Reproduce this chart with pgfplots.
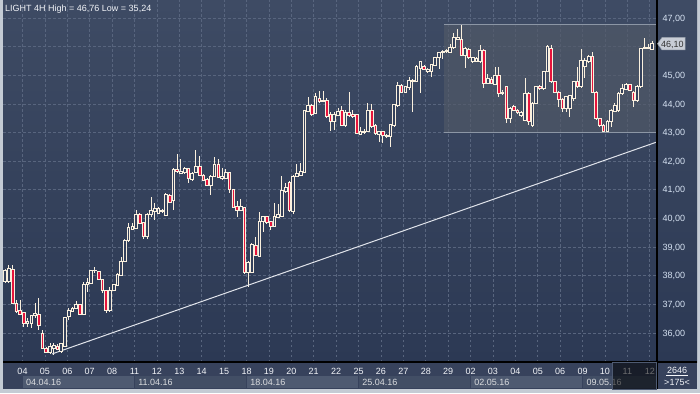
\documentclass[border=0pt]{standalone}
\usepackage{pgfplots}
\pgfplotsset{compat=1.18}
\usepackage{pgfplotstable}
\usepackage{fontspec}
\setmainfont{Liberation Sans}
\definecolor{framegray}{RGB}{196,203,212}
\definecolor{bgtop}{RGB}{62,75,100}
\definecolor{bgbot}{RGB}{44,57,84}
\definecolor{gridc}{RGB}{88,101,126}
\definecolor{cream}{RGB}{250,240,222}
\definecolor{bearred}{RGB}{230,20,60}
\definecolor{bullfill}{RGB}{52,65,92}
\definecolor{rectfill}{RGB}{82,90,104}
\definecolor{rectline}{RGB}{140,150,165}
\definecolor{panelbg}{RGB}{55,66,92}
\definecolor{weeklight}{RGB}{78,90,113}
\definecolor{weekdark}{RGB}{66,78,101}
\definecolor{txt}{RGB}{242,244,248}
\definecolor{pricelab}{RGB}{214,226,242}
\definecolor{trendc}{RGB}{225,228,235}
\definecolor{markfill}{RGB}{200,205,214}
\definecolor{markdraw}{RGB}{150,158,170}
\definecolor{overlay}{RGB}{28,36,54}

\pgfplotstableread{
n o h l c
0 37.79 38.25 37.76 38.20
1 37.79 38.36 37.76 38.26
2 38.22 38.36 37.00 37.04
3 37.04 37.15 36.72 36.75
4 36.80 37.15 36.62 36.65
5 36.72 36.74 36.22 36.34
6 36.34 36.51 36.22 36.42
7 36.34 36.64 36.16 36.61
8 36.61 37.06 36.51 36.69
9 36.65 37.21 36.11 36.26
10 35.99 36.10 35.44 35.47
11 35.47 35.50 35.30 35.33
12 35.33 35.64 35.28 35.55
13 35.47 35.66 35.24 35.58
14 35.55 35.60 35.40 35.43
15 35.35 35.66 35.30 35.64
16 35.52 36.57 35.50 36.55
17 36.57 36.86 36.46 36.80
18 36.75 36.90 36.72 36.86
19 36.86 37.10 36.84 37.00
20 37.00 37.03 36.62 36.65
21 36.65 37.79 36.62 37.71
22 37.70 37.91 37.44 37.76
23 37.73 38.20 37.70 38.18
24 38.18 38.29 38.10 38.20
25 38.14 38.17 37.84 37.87
26 37.87 37.88 37.41 37.50
27 37.48 37.50 36.69 36.78
28 36.80 37.62 36.75 37.48
29 37.50 37.72 37.47 37.70
30 37.68 38.08 37.65 38.06
31 38.03 38.64 38.00 38.49
32 38.49 39.27 38.47 39.25
33 39.25 39.83 39.19 39.69
34 39.62 39.85 39.60 39.71
35 39.66 40.29 39.64 40.16
36 40.16 40.18 39.80 39.83
37 39.85 39.87 39.27 39.39
38 39.36 40.18 39.27 40.16
39 40.16 40.74 40.06 40.27
40 40.24 40.53 39.95 40.35
41 40.18 40.41 40.15 40.35
42 40.24 40.32 40.20 40.29
43 40.12 40.90 40.10 40.85
44 40.82 40.85 40.55 40.58
45 40.62 41.75 40.30 41.71
46 41.71 42.25 41.58 41.63
47 41.57 42.06 41.55 41.66
48 41.60 41.80 41.55 41.75
49 41.75 41.77 41.22 41.40
50 41.36 41.62 41.30 41.57
51 41.60 42.39 41.58 41.83
52 41.83 42.18 41.50 41.52
53 41.52 41.54 41.30 41.34
54 41.36 41.40 41.12 41.17
55 41.17 41.50 40.82 41.46
56 41.46 42.16 41.44 41.90
57 41.90 42.06 41.40 41.43
58 41.40 41.75 41.35 41.46
59 41.40 41.71 41.37 41.60
60 41.60 41.62 40.90 41.02
61 41.02 41.04 40.35 40.39
62 40.43 40.62 40.06 40.30
63 40.30 40.69 40.28 40.41
64 40.39 40.41 38.08 38.11
65 38.11 38.50 37.62 38.46
66 38.11 39.15 38.08 39.11
67 39.07 39.36 38.70 38.72
68 38.69 40.24 38.66 39.89
69 39.89 40.10 39.54 40.06
70 40.06 40.10 39.80 39.85
71 39.89 39.92 39.60 39.71
72 39.74 40.55 39.70 40.06
73 40.04 40.50 40.00 40.13
74 40.09 41.49 40.05 40.97
75 40.93 41.22 40.90 41.09
76 41.25 41.30 40.24 40.27
77 40.24 41.52 40.16 41.48
78 41.46 41.89 41.44 41.57
79 41.52 41.92 41.50 41.63
80 41.60 43.80 41.57 43.76
81 43.73 44.23 43.70 43.95
82 43.95 43.98 43.58 43.65
83 43.67 44.37 43.64 44.25
84 44.19 44.46 44.05 44.08
85 44.08 44.45 44.05 44.14
86 44.13 44.22 43.50 43.55
87 43.63 43.70 43.05 43.38
88 43.38 43.70 43.09 43.63
89 43.61 43.84 43.58 43.75
90 43.79 43.94 43.23 43.26
91 43.26 43.80 43.20 43.72
92 43.72 44.40 43.55 43.60
93 43.62 43.80 43.50 43.55
94 43.63 43.65 42.95 42.97
95 42.95 43.20 42.93 43.05
96 43.00 43.12 42.95 43.05
97 43.05 44.02 43.00 43.79
98 43.79 43.98 43.15 43.20
99 43.26 43.30 42.91 42.97
100 42.93 43.05 42.68 43.03
101 43.03 43.05 42.62 42.89
102 42.85 42.95 42.80 42.90
103 42.85 43.30 42.50 43.28
104 43.24 44.00 43.20 43.98
105 43.94 44.77 43.90 44.66
106 44.63 44.70 44.40 44.42
107 44.42 44.62 44.38 44.60
108 44.56 44.95 44.50 44.83
109 44.80 44.85 43.73 44.83
110 44.78 45.35 44.75 45.30
111 45.24 45.50 44.37 45.47
112 45.30 45.35 45.18 45.22
113 45.12 45.26 45.06 45.22
114 45.15 45.40 44.95 45.38
115 45.36 45.65 45.33 45.61
116 45.61 45.82 45.22 45.79
117 45.80 45.88 45.56 45.85
118 45.82 45.90 45.79 45.88
119 45.80 46.08 45.77 45.96
120 45.96 46.46 45.90 46.32
121 46.26 46.61 46.22 46.34
122 46.26 46.76 45.68 45.71
123 45.71 45.98 45.24 45.94
124 45.90 45.95 45.58 45.61
125 45.47 45.64 45.44 45.61
126 45.47 45.62 45.45 45.58
127 45.47 46.05 45.44 45.88
128 45.88 45.90 44.56 44.72
129 44.72 45.05 44.70 44.89
130 44.87 44.92 44.68 44.72
131 44.68 45.30 44.65 45.01
132 45.01 45.30 44.25 44.37
133 44.37 44.48 44.30 44.42
134 44.60 44.62 43.32 43.49
135 43.49 43.88 43.32 43.84
136 43.90 43.95 43.75 43.79
137 43.79 43.82 43.65 43.70
138 43.61 43.75 43.55 43.70
139 43.44 44.90 43.40 44.37
140 44.37 44.40 43.25 43.38
141 43.26 44.05 43.20 44.02
142 44.02 44.62 43.98 44.60
143 44.62 44.66 44.50 44.54
144 44.54 45.15 44.50 45.12
145 45.12 46.05 45.10 46.00
146 45.94 46.05 44.74 44.77
147 44.77 44.80 44.40 44.42
148 44.42 44.45 43.90 44.17
149 44.17 44.19 43.73 43.84
150 43.84 44.28 43.70 44.25
151 43.84 44.31 43.55 44.29
152 44.19 44.80 44.10 44.77
153 44.77 45.30 44.55 44.60
154 44.60 45.91 44.57 45.53
155 45.30 45.60 44.90 45.53
156 45.47 45.70 45.44 45.65
157 45.65 45.80 44.40 44.42
158 44.42 44.45 43.45 43.49
159 43.49 43.52 43.20 43.26
160 43.26 43.30 43.00 43.05
161 43.05 43.42 43.02 43.38
162 43.38 43.82 43.20 43.79
163 43.73 44.02 43.70 43.96
164 43.79 44.40 43.73 44.37
165 44.37 44.68 44.30 44.54
166 44.52 44.72 44.50 44.68
167 44.68 44.70 44.45 44.48
168 44.42 44.45 43.90 44.13
169 44.13 44.65 44.08 44.60
170 44.60 45.96 44.55 45.94
171 45.94 46.31 45.90 45.96
172 45.94 46.10 45.90 45.96
173 45.91 46.19 45.88 46.10
}\candles

\begin{document}
\begin{tikzpicture}[x=1pt,y=1pt]
\useasboundingbox (0,0) rectangle (700,393);
\fill[framegray] (0,0) rectangle (700,393);
\shade[top color=bgtop,bottom color=bgbot] (3,31) rectangle (697,393);
\fill[panelbg] (3,4) rectangle (697,31);
% week boxes
\fill[weeklight] (22.5,5) rectangle (134.6,17);
\fill[weekdark]  (134.6,5) rectangle (246.6,17);
\fill[weeklight] (246.6,5) rectangle (358.7,17);
\fill[weekdark]  (358.7,5) rectangle (470.7,17);
\fill[weeklight] (470.7,5) rectangle (582.8,17);
\fill[weekdark]  (582.8,5) rectangle (657,17);
\foreach \xx in {22.5,134.6,246.6,358.7,470.7,582.8}{\draw[panelbg,line width=0.8pt] (\xx,5)--(\xx,17);}

\begin{axis}[
  at={(3pt,31pt)}, anchor=south west, scale only axis,
  width=654pt, height=362pt,
  xmin=-0.535, xmax=174.33, ymin=34.988, ymax=47.625,
  enlargelimits=false,
  axis line style={draw=none},
  major tick length=0pt,
  xtick={4.68,10.67,...,172.5},
  xticklabels={04,05,06,07,08,11,12,13,14,15,18,19,20,21,22,25,26,27,28,29,02,03,04,05,06,09,10,11,12},
  ytick={36,37,...,47},
  yticklabels={{36,00},{37,00},{38,00},{39,00},{40,00},{41,00},{42,00},{43,00},{44,00},{45,00},{},{47,00}},
  yticklabel pos=right,
  xmajorgrids, ymajorgrids,
  grid style={gridc, line width=0.6pt, dash pattern=on 2.5pt off 2.5pt},
  tick label style={font=\fontsize{9}{10}\selectfont},
  xticklabel style={text=txt, anchor=base, yshift=-12.3pt},
  yticklabel style={text=pricelab, anchor=base west, xshift=2pt, yshift=-3.2pt},
]
\fill[rectfill, fill opacity=0.65] (axis cs:117.4,43.0) rectangle (axis cs:174.33,46.76);
\draw[rectline, line width=1.1pt] (axis cs:117.4,46.76) -- (axis cs:174.33,46.76);
\draw[rectline, line width=1.1pt] (axis cs:117.4,43.0) -- (axis cs:174.33,43.0);
\addplot[draw=none, mark=none, forget plot,
  error bars/.cd, y dir=both, y explicit, error mark=none,
  error bar style={draw=cream, line width=0.7pt}]
  table[x=n, y=c, y error plus expr=\thisrow{h}-\thisrow{c}, y error minus expr=\thisrow{c}-\thisrow{l}] \candles;
\addplot[trendc, line width=1pt] coordinates {(12.6,35.27) (174.33,42.67)};
\end{axis}

\begin{axis}[
  at={(3pt,31pt)}, anchor=south west, scale only axis,
  width=654pt, height=362pt,
  xmin=-0.535, xmax=174.33, ymin=34.988, ymax=47.625,
  enlargelimits=false, hide axis,
  ybar stacked, bar width=0.72,
]
\addplot[draw=none, fill=none] table[x=n, y expr={min(\thisrow{o},\thisrow{c})}] \candles;
\addplot[draw=cream, fill=bullfill, line width=0.6pt] table[x=n, y expr={max(\thisrow{c}-\thisrow{o},0)}] \candles;
\addplot[draw=cream, fill=bearred, line width=0.6pt] table[x=n, y expr={max(\thisrow{o}-\thisrow{c},0)}] \candles;
\end{axis}

% frame lines
\draw[black, line width=1.3pt] (3,31) -- (697,31);
\draw[black, line width=1.3pt] (657,4) -- (657,393);
% title
\node[anchor=base west, inner sep=0pt, text=txt, font=\fontsize{9}{10}\selectfont] at (5,381.3) {LIGHT 4H High = 46,76 Low = 35,24};
% week labels
\foreach \xx/\lab in {22.5/04.04.16,134.6/11.04.16,246.6/18.04.16,358.7/25.04.16,470.7/02.05.16,582.8/09.05.16}{
  \node[anchor=base west, inner sep=0pt, text=txt!90!black, font=\fontsize{9}{10}\selectfont] at (\xx+3.5,7.3) {\lab};}
% price marker
\filldraw[fill=markfill, draw=markdraw, line width=0.5pt] (657.5,349.3) -- (662,355.5) -- (685,355.5) -- (685,343) -- (662,343) -- cycle;
\node[anchor=base west, inner sep=0pt, text=black!80, font=\fontsize{9}{10}\selectfont] at (661,345.7) {46,10};
% bottom right cell
\node[anchor=base, inner sep=0pt, text=txt, font=\fontsize{9}{10}\selectfont] at (677,19.5) {2646};
\draw[txt!70, line width=0.6pt] (666,17.3) -- (688,17.3);
\node[anchor=base, inner sep=0pt, text=txt, font=\fontsize{9}{10}\selectfont] at (677,7.2) {>175<};
% dark overlay
\fill[overlay, fill opacity=0.55] (612,4) rectangle (656.3,30.3);
\draw[weeklight, line width=0.6pt] (612,4) rectangle (656.3,30.3);
\end{tikzpicture}
\end{document}
